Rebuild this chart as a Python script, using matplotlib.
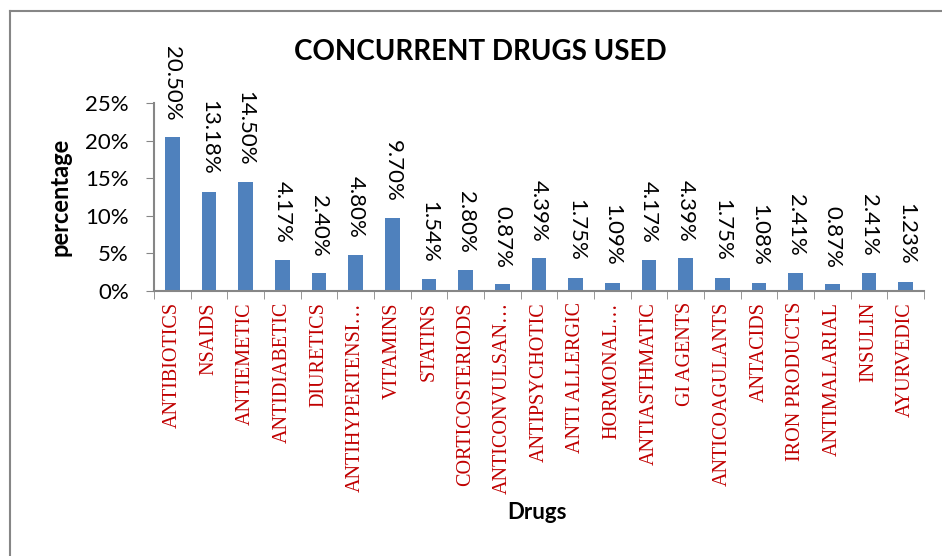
import numpy as np
import matplotlib.pyplot as plt
from matplotlib.lines import Line2D
from matplotlib.ticker import PercentFormatter

drugs = ["ANTIBIOTICS", "NSAIDS", "ANTIEMETIC", "ANTIDIABETIC", "DIURETICS",
         "ANTIHYPERTENSI\u2026", "VITAMINS", "STATINS", "CORTICOSTERIODS",
         "ANTICONVULSAN\u2026", "ANTIPSYCHOTIC", "ANTI ALLERGIC", "HORMONAL\u2026",
         "ANTIASTHMATIC", "GI AGENTS", "ANTICOAGULANTS", "ANTACIDS",
         "IRON PRODUCTS", "ANTIMALARIAL", "INSULIN", "AYURVEDIC"]
percent = [20.50, 13.18, 14.50, 4.17, 2.40, 4.80, 9.70, 1.54, 2.80, 0.87,
           4.39, 1.75, 1.09, 4.17, 4.39, 1.75, 1.08, 2.41, 0.87, 2.41, 1.23]
yticks = [0, 5, 10, 15, 20, 25]

axis_gray = "#868686"

fig = plt.figure(figsize=(9.42, 5.56), dpi=100)
ax = fig.add_axes([0.1635, 0.4766, 0.8175, 0.3381])

x = np.arange(len(drugs))
bars = ax.bar(x, percent, width=0.4, color="#4F81BD")

for xi, v in zip(x, percent):
    ax.annotate(f"{v:.2f}%", (xi, v), xytext=(0, 12), textcoords="offset points",
                rotation=-90, ha="center", va="bottom", fontsize=16,
                family="Lato", annotation_clip=False)

ax.set_xlim(-0.5, len(drugs) - 0.5)
ax.set_ylim(0, 25)
ax.set_yticks(yticks)
ax.yaxis.set_major_formatter(PercentFormatter(decimals=0))
ax.tick_params(axis="y", labelsize=16, length=6, color=axis_gray, pad=12)
for lbl in ax.get_yticklabels():
    lbl.set_family("Lato")

ax.set_xticks(x)
ax.set_xticklabels(drugs, rotation=90, color="#C00000",
                   family="Liberation Serif", fontsize=14.5)
ax.set_xticks(np.arange(len(drugs) + 1) - 0.5, minor=True)
ax.tick_params(axis="x", which="major", length=0, pad=8)
ax.tick_params(axis="x", which="minor", length=6, color=axis_gray)

for side in ["top", "right"]:
    ax.spines[side].set_visible(False)
for side in ["left", "bottom"]:
    ax.spines[side].set_color(axis_gray)
    ax.spines[side].set_linewidth(1.5)

ax.set_ylabel("percentage", family="Lato", weight="bold", fontsize=17, labelpad=10)
fig.text(0.57, 0.079, "Drugs", family="Lato", weight="bold", fontsize=16,
         ha="center", va="center")
fig.text(0.51, 0.907, "CONCURRENT DRUGS USED", family="Lato", weight="bold",
         fontsize=20, ha="center", va="center")

# chart border
fig.add_artist(Line2D([9.5 / 942, 9.5 / 942], [0, 1 - 10.5 / 556],
                      transform=fig.transFigure, color=axis_gray, lw=1.5))
fig.add_artist(Line2D([9.5 / 942, 1], [1 - 10.5 / 556, 1 - 10.5 / 556],
                      transform=fig.transFigure, color=axis_gray, lw=1.5))

fig.savefig("out.png", dpi=100)
